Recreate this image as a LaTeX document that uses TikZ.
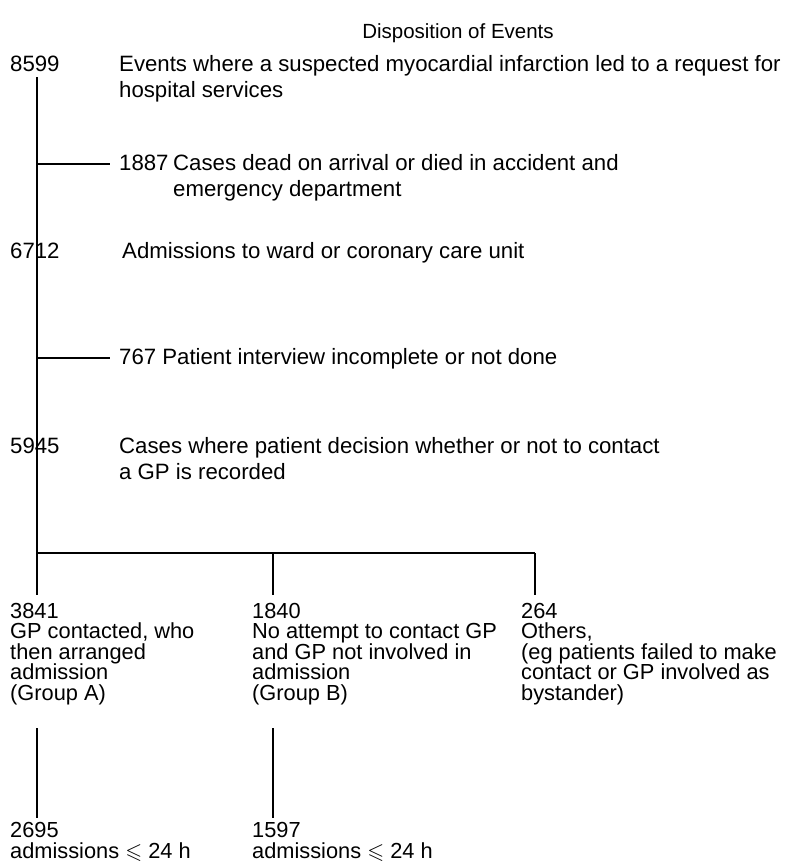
\documentclass[tikz,border=0pt]{standalone}
\usepackage{amssymb}
\usepackage{fontspec}
\setmainfont{Liberation Sans}
\begin{document}
\begin{tikzpicture}[x=1pt,y=-1pt,
  txt/.style={anchor=base west,inner sep=0pt,align=left,font=\fontsize{22.2}{26}\selectfont},
  ctxt/.style={anchor=base west,inner sep=0pt,align=left,font=\fontsize{21.8}{20.5}\selectfont},
  ln/.style={line width=1.5pt}]
\useasboundingbox (0,0) rectangle (787,868);
\node[txt,anchor=base,font=\fontsize{20.5}{26}\selectfont] (title) at (458,38) {Disposition of Events};
\node[txt] (n8599) at (10,71) {8599};
\node[txt] (t8599) at (119,97) {Events where a suspected myocardial infarction led to a request for\\hospital services};
\node[txt] (n1887) at (119,170) {1887};
\node[txt] (t1887) at (173,196) {Cases dead on arrival or died in accident and\\emergency department};
\node[txt] (n6712) at (10,258) {6712};
\node[txt] (t6712) at (122,258) {Admissions to ward or coronary care unit};
\node[txt] (t767) at (119,364) {767 Patient interview incomplete or not done};
\node[txt] (n5945) at (10,453) {5945};
\node[txt] (t5945) at (119,479) {Cases where patient decision whether or not to contact\\a GP is recorded};
\node[ctxt] (gA) at (10,700) {3841\\GP contacted, who\\then arranged\\admission\\(Group A)};
\node[ctxt] (gB) at (252,700) {1840\\No attempt to contact GP\\and GP not involved in\\admission\\(Group B)};
\node[ctxt] (gC) at (521,700) {264\\Others,\\(eg patients failed to make\\contact or GP involved as\\bystander)};
\node[ctxt] (aA) at (10,858) {2695\\admissions $\leqslant$ 24 h};
\node[ctxt] (aB) at (252,858) {1597\\admissions $\leqslant$ 24 h};
% coordinates
\coordinate (top) at (37,77);
\coordinate (b1887) at (37,164);
\coordinate (e1887) at (110,164);
\coordinate (b767) at (37,358);
\coordinate (e767) at (110,358);
\coordinate (split) at (37,553);
\coordinate (sB) at (273,553);
\coordinate (sC) at (535,553);
\coordinate (dA) at (37,595);
\coordinate (dB) at (273,595);
\coordinate (dC) at (535,595);
\coordinate (uA) at (37,728);
\coordinate (uB) at (273,728);
\coordinate (lA) at (37,818);
\coordinate (lB) at (273,818);
\draw[ln] (top) -- (split);
\draw[ln] (b1887) -- (e1887);
\draw[ln] (b767) -- (e767);
\draw[ln] (split) -- (sC);
\draw[ln] (split) -- (dA);
\draw[ln] (sB) -- (dB);
\draw[ln] (sC) -- (dC);
\draw[ln] (uA) -- (lA);
\draw[ln] (uB) -- (lB);
\end{tikzpicture}
\end{document}
